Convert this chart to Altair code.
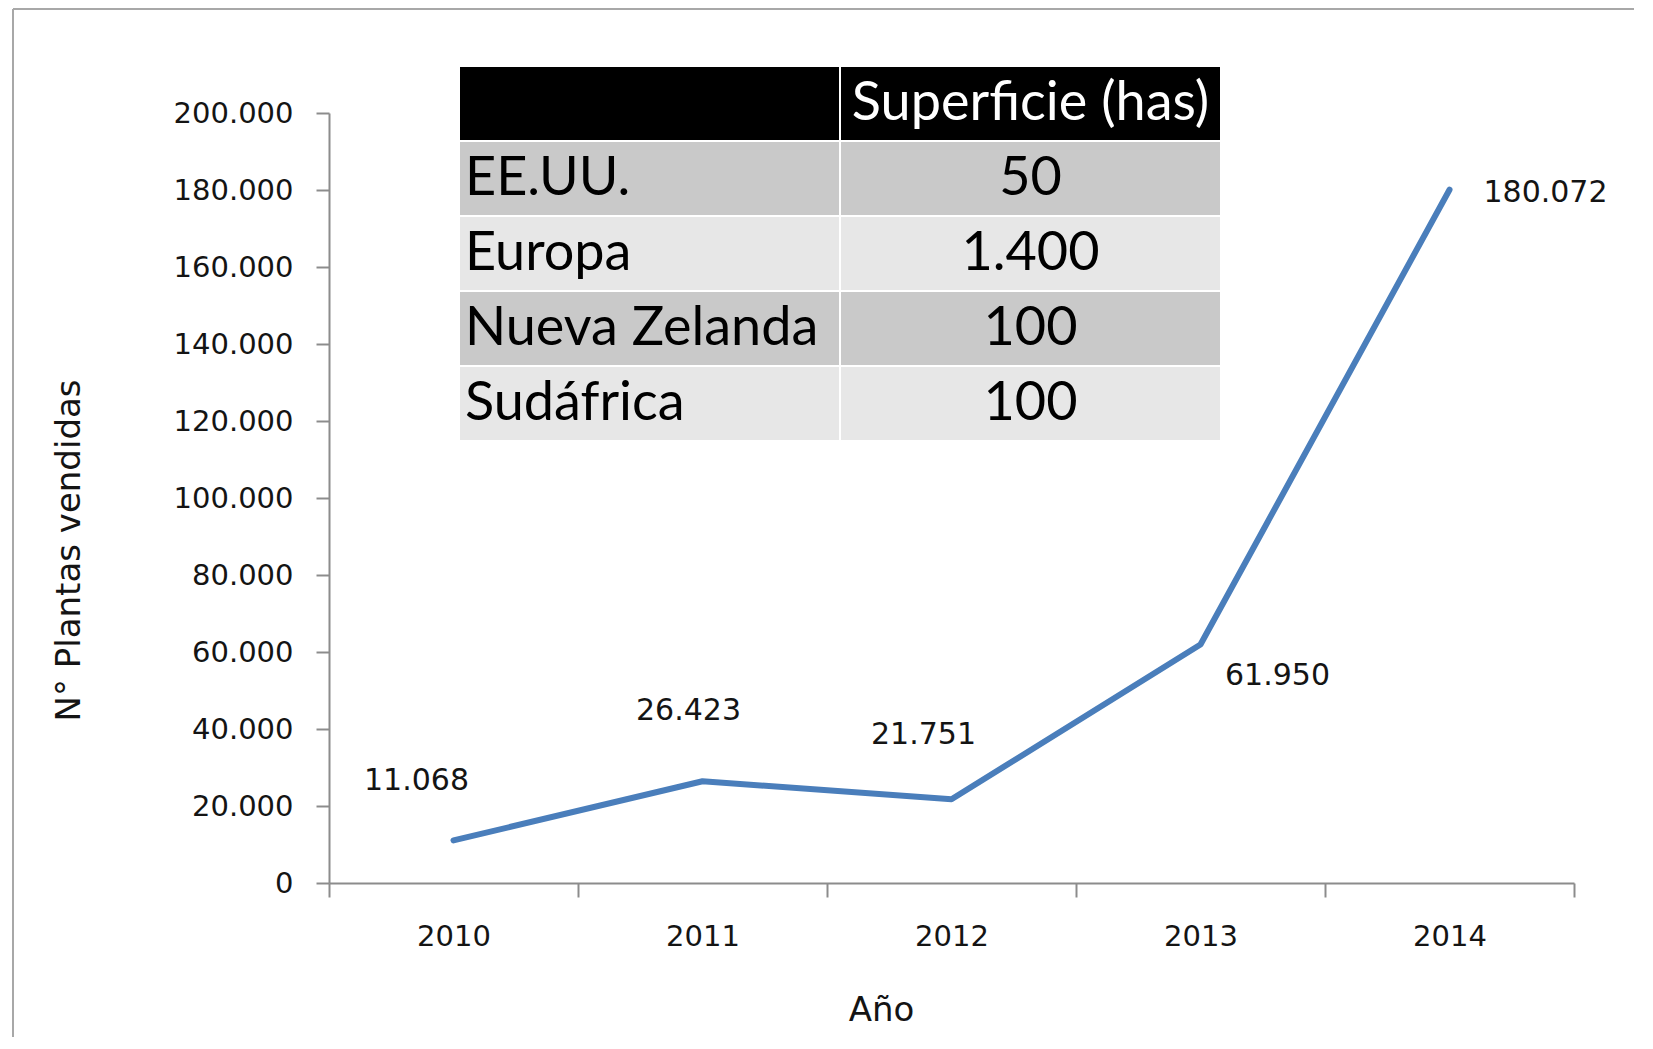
import altair as alt
import pandas as pd

# ---- data ----
years = ["2010", "2011", "2012", "2013", "2014"]
plantas = [11068, 26423, 21751, 61950, 180072]
y_ticks = [0, 20000, 40000, 60000, 80000, 100000, 120000, 140000, 160000, 180000, 200000]

header_text = "Superficie (has)"
paises = ["EE.UU.", "Europa", "Nueva Zelanda", "Sudáfrica"]
superficie = ["50", "1.400", "100", "100"]

# ---- styles ----
FONT = "DejaVu Sans"
TFONT = "Lato"
LINE_COLOR = "#4a7ebb"
TEXT_COLOR = "#141414"
AXIS_COLOR = "#8c8c8c"
W, H = 1245, 770

# per-label placement (dx, dy) like Excel's manual data label positions
LABEL_OFFSETS = {
    "2010": (-37, -59),
    "2011": (-14, -70),
    "2012": (-28, -64),
    "2013": (77, 32),
    "2014": (96, 3),
}

df = pd.DataFrame({"year": years, "plantas": plantas})

x_scale = alt.Scale(type="band", domain=years, paddingInner=0, paddingOuter=0)
y_scale = alt.Scale(domain=[0, 200000], nice=False)

x_enc = alt.X(
    "year:N",
    title="Año",
    scale=x_scale,
    bandPosition=0.5,
    axis=alt.Axis(
        labelAngle=0,
        tickBand="extent",
        tickSize=14,
        labelPadding=25,
        titleX=552,
        titleY=127,
        titleBaseline="middle",
        titleAlign="center",
    ),
)
y_enc = alt.Y(
    "plantas:Q",
    title="N° Plantas vendidas",
    scale=y_scale,
    axis=alt.Axis(
        values=y_ticks,
        format=",.0f",
        tickSize=13,
        labelPadding=23,
        titleX=-260,
        titleY=437,
        titleBaseline="middle",
        titleAlign="center",
    ),
)

line = alt.Chart(df).mark_line(
    color=LINE_COLOR, strokeWidth=6, strokeCap="round", strokeJoin="round"
).encode(x=x_enc, y=y_enc)

label_layers = []
for yr in years:
    dx, dy = LABEL_OFFSETS[yr]
    label_layers.append(
        alt.Chart(df)
        .transform_filter(alt.datum.year == yr)
        .mark_text(
            dx=dx, dy=dy, font=FONT, fontSize=30, color=TEXT_COLOR,
            align="center", baseline="middle",
        )
        .encode(x=x_enc, y=y_enc, text=alt.Text("plantas:Q", format=",.0f"))
    )

inner = alt.layer(line, *label_layers)

# ---- inset table ----
tab_rows = ["header"] + paises
trows, tcols, ttext = [], [], []
trows += ["header", "header"]
tcols += ["pais", "sup"]
ttext += ["", header_text]
for p, s in zip(paises, superficie):
    trows += [p, p]
    tcols += ["pais", "sup"]
    ttext += [p, s]
tdf = pd.DataFrame({"row": trows, "col": tcols, "text": ttext})

tx_scale = alt.Scale(type="band", domain=["pais", "sup"], range=[130, 892],
                     paddingInner=0, paddingOuter=0)
ty_scale = alt.Scale(type="band", domain=tab_rows, range=[-47, 328],
                     paddingInner=0, paddingOuter=0)

rects = alt.Chart(tdf).mark_rect(stroke="white", strokeWidth=2).encode(
    x=alt.X("col:N", scale=tx_scale, axis=None),
    y=alt.Y("row:N", scale=ty_scale, axis=None),
    color=alt.Color(
        "row:N",
        scale=alt.Scale(domain=tab_rows,
                        range=["#000000", "#c9c9c9", "#e7e7e7", "#c9c9c9", "#e7e7e7"]),
        legend=None,
    ),
)

txt_color = alt.condition(alt.datum.row == "header", alt.value("white"), alt.value("black"))

left_txt = alt.Chart(tdf).transform_filter(alt.datum.col == "pais").mark_text(
    align="left", baseline="middle", dx=6, font=TFONT, fontSize=54
).encode(
    x=alt.X("col:N", scale=tx_scale, axis=None, bandPosition=0),
    y=alt.Y("row:N", scale=ty_scale, axis=None, bandPosition=0.5),
    text="text:N",
    color=txt_color,
)
right_txt = alt.Chart(tdf).transform_filter(alt.datum.col == "sup").mark_text(
    align="center", baseline="middle", font=TFONT, fontSize=54
).encode(
    x=alt.X("col:N", scale=tx_scale, axis=None, bandPosition=0.5),
    y=alt.Y("row:N", scale=ty_scale, axis=None, bandPosition=0.5),
    text="text:N",
    color=txt_color,
)

table = alt.layer(rects, left_txt, right_txt)

# ---- outer frame ----
frame_df = pd.DataFrame({"k": [0]})
frame_left = alt.Chart(frame_df).mark_rule(color="#a8a8a8", strokeWidth=2).encode(
    x=alt.value(-316), y=alt.value(-104), y2=alt.value(960)
)
frame_top = alt.Chart(frame_df).mark_rule(color="#a8a8a8", strokeWidth=2).encode(
    x=alt.value(-316), x2=alt.value(1340), y=alt.value(-104)
)

chart = (
    alt.layer(inner, table, frame_left, frame_top)
    .resolve_scale(x="independent", y="independent", color="independent")
    .properties(
        width=W,
        height=H,
        autosize=alt.AutoSizeParams(type="none"),
        padding={"left": 321, "top": 105, "right": 60, "bottom": 154},
        background="white",
    )
    .configure(
        locale={
            "number": {
                "decimal": ",",
                "thousands": ".",
                "grouping": [3],
                "currency": ["", " €"],
            }
        }
    )
    .configure_view(strokeWidth=0)
    .configure_axis(
        labelFont=FONT,
        labelFontSize=29,
        labelColor=TEXT_COLOR,
        titleFont=FONT,
        titleFontSize=34,
        titleFontWeight="normal",
        titleColor=TEXT_COLOR,
        domainColor=AXIS_COLOR,
        tickColor=AXIS_COLOR,
        domainWidth=2,
        tickWidth=2,
        grid=False,
    )
)

chart.save("out.html", embed_options={"renderer": "svg", "actions": False})
